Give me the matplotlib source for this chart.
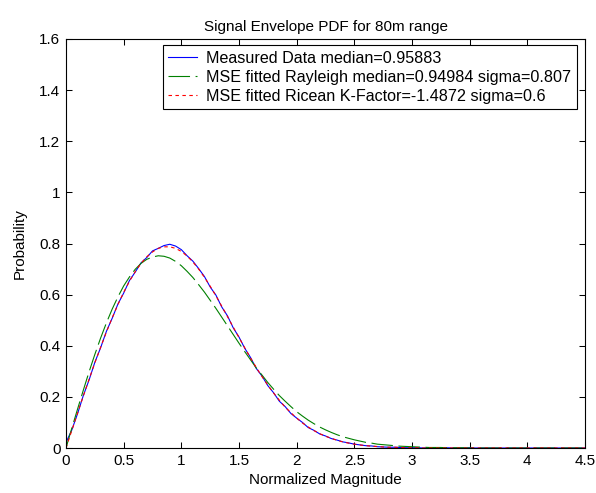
import numpy as np
import matplotlib
matplotlib.use("Agg")
import matplotlib.pyplot as plt
from matplotlib.ticker import FuncFormatter

plt.rcParams['font.family'] = ['Liberation Sans', 'DejaVu Sans']
plt.rcParams['lines.scale_dashes'] = False

STEP = 0.05

measured = [0.022, 0.070, 0.134, 0.205, 0.266, 0.335, 0.392, 0.456, 0.507, 0.563,
            0.606, 0.655, 0.688, 0.724, 0.745, 0.771, 0.781, 0.792, 0.797, 0.790,
            0.776, 0.752, 0.731, 0.702, 0.671, 0.630, 0.598, 0.552, 0.517, 0.470,
            0.434, 0.390, 0.354, 0.311, 0.281, 0.244, 0.216, 0.183, 0.162, 0.135,
            0.117, 0.100, 0.080, 0.069, 0.055, 0.047, 0.037, 0.031, 0.024, 0.020,
            0.015, 0.012, 0.009, 0.008, 0.005, 0.004, 0.003, 0.003, 0.002, 0.001,
            0.001, 0.001, 0.000, 0.001, 0.000, 0.000, 0.001, 0.000, 0.000, 0.000,
            0.001, 0.000, 0.000, 0.000, 0.000, 0.000, 0.000, 0.000, 0.000, 0.000,
            0.000, 0.000, 0.000, 0.000, 0.000, 0.000, 0.000, 0.000, 0.000, 0.000,
            0.000]

rayleigh = [0.000, 0.077, 0.152, 0.226, 0.298, 0.366, 0.430, 0.489, 0.543, 0.591,
            0.634, 0.669, 0.699, 0.722, 0.738, 0.747, 0.752, 0.750, 0.743, 0.730,
            0.713, 0.691, 0.667, 0.639, 0.610, 0.578, 0.546, 0.512, 0.478, 0.444,
            0.410, 0.377, 0.345, 0.313, 0.285, 0.256, 0.230, 0.205, 0.183, 0.162,
            0.142, 0.125, 0.109, 0.095, 0.082, 0.071, 0.061, 0.052, 0.044, 0.038,
            0.032, 0.027, 0.022, 0.019, 0.015, 0.013, 0.011, 0.009, 0.007, 0.006,
            0.005, 0.004, 0.003, 0.002, 0.002, 0.002, 0.001, 0.001, 0.001, 0.001,
            0.000, 0.000, 0.000, 0.000, 0.000, 0.000, 0.000, 0.000, 0.000, 0.000,
            0.000, 0.000, 0.000, 0.000, 0.000, 0.000, 0.000, 0.000, 0.000, 0.000,
            0.000]

ricean = [0.000, 0.068, 0.136, 0.203, 0.269, 0.333, 0.394, 0.453, 0.509, 0.561,
          0.609, 0.652, 0.690, 0.722, 0.748, 0.767, 0.781, 0.787, 0.787, 0.781,
          0.769, 0.751, 0.728, 0.700, 0.668, 0.633, 0.595, 0.555, 0.514, 0.473,
          0.432, 0.392, 0.352, 0.315, 0.279, 0.246, 0.215, 0.187, 0.160, 0.138,
          0.117, 0.098, 0.082, 0.068, 0.056, 0.046, 0.038, 0.030, 0.024, 0.019,
          0.015, 0.012, 0.009, 0.007, 0.006, 0.004, 0.003, 0.003, 0.002, 0.001,
          0.001, 0.001, 0.000, 0.000, 0.000, 0.000, 0.000, 0.000, 0.000, 0.000,
          0.000, 0.000, 0.000, 0.000, 0.000, 0.000, 0.000, 0.000, 0.000, 0.000,
          0.000, 0.000, 0.000, 0.000, 0.000, 0.000, 0.000, 0.000, 0.000, 0.000,
          0.000]

labels = ["Measured Data median=0.95883",
          "MSE fitted Rayleigh median=0.94984 sigma=0.807",
          "MSE fitted Ricean K-Factor=-1.4872 sigma=0.6"]
title = "Signal Envelope PDF for 80m range"
xlabel = "Normalized Magnitude"
ylabel = "Probability"
xticks = [0, 0.5, 1, 1.5, 2, 2.5, 3, 3.5, 4, 4.5]
yticks = [0, 0.2, 0.4, 0.6, 0.8, 1, 1.2, 1.4, 1.6]


def xs(vals):
    return np.arange(len(vals)) * STEP


FS = 11
fig = plt.figure(figsize=(5.96, 4.93), dpi=100)
fig.patch.set_facecolor('white')
ax = fig.add_axes([66 / 596, (493 - 448) / 493, 519 / 596, 409 / 493])

ax.plot(xs(measured), measured, color=(0, 0, 1), lw=0.8, label=labels[0])
ax.plot(xs(rayleigh), rayleigh, color=(0, 0.5, 0), lw=0.8, dashes=(15.5, 4), label=labels[1])
ax.plot(xs(ricean), ricean, color=(1, 0, 0), lw=0.8, dashes=(2.5, 2.5), label=labels[2])

ax.set_xlim(0, 4.5)
ax.set_ylim(0, 1.6)
ax.set_xticks(xticks)
ax.set_yticks(yticks)
fmt = FuncFormatter(lambda v, p: "%g" % v)
ax.xaxis.set_major_formatter(fmt)
ax.yaxis.set_major_formatter(fmt)
ax.tick_params(direction='in', length=4, width=0.75, top=True, right=True,
               labelsize=FS, pad=4, colors='black')
for s in ax.spines.values():
    s.set_linewidth(0.8)
    s.set_color('black')

ax.set_title(title, fontsize=FS, pad=6)
ax.set_xlabel(xlabel, fontsize=FS, labelpad=4)
ax.set_ylabel(ylabel, fontsize=FS, labelpad=9)

leg = ax.legend(loc='upper right', bbox_to_anchor=((577 - 66) / 519, (448 - 45) / 409),
                borderaxespad=0, fancybox=False, framealpha=1, fontsize=11.6,
                handlelength=1.75, handletextpad=0.6, labelspacing=0.25,
                borderpad=0.35)
leg.get_frame().set_edgecolor('black')
leg.get_frame().set_linewidth(0.8)

fig.savefig("out.png", dpi=100, facecolor='white')
